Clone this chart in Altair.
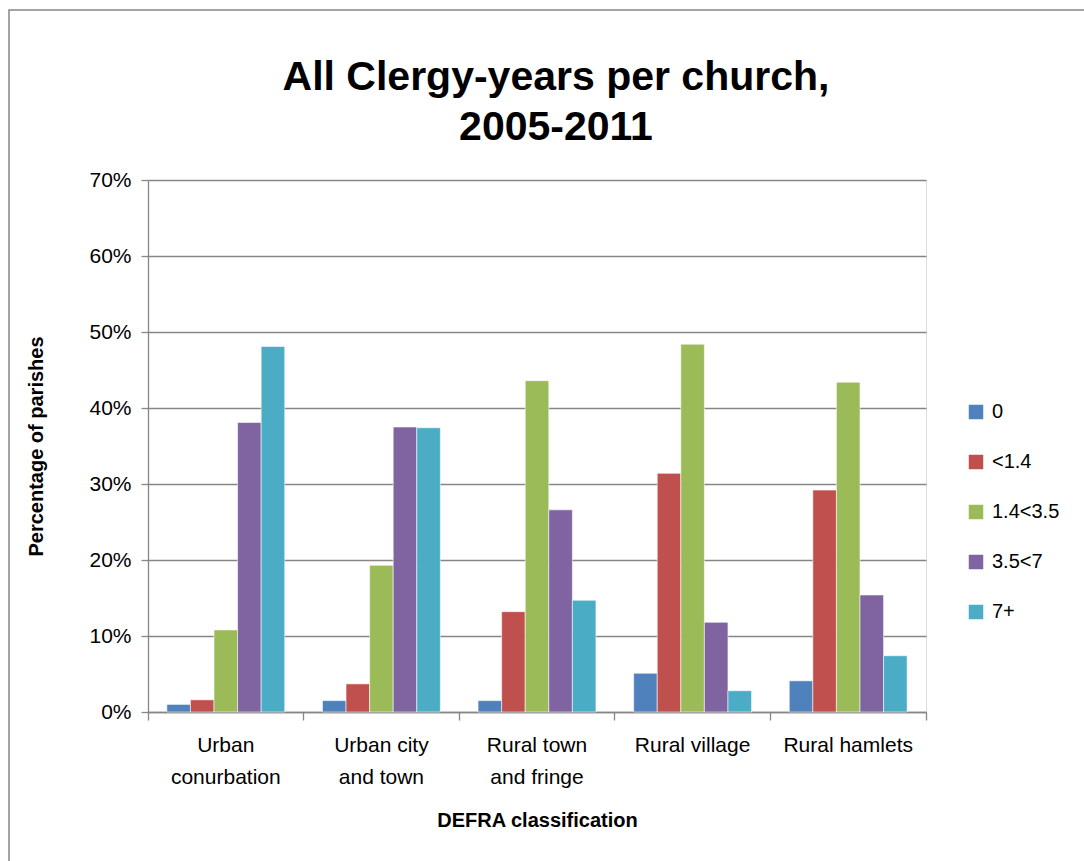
import altair as alt
import pandas as pd

title_lines = ["All Clergy-years per church,", "2005-2011"]
categories = ["Urban conurbation", "Urban city and town", "Rural town and fringe", "Rural village", "Rural hamlets"]
category_lines = [["Urban", "conurbation"], ["Urban city", "and town"], ["Rural town", "and fringe"], ["Rural village"], ["Rural hamlets"]]
series = ["0", "<1.4", "1.4<3.5", "3.5<7", "7+"]
colors = ["#4F81BD", "#C0504D", "#9BBB59", "#8064A2", "#4BACC6"]
y_ticks = [0, 0.1, 0.2, 0.3, 0.4, 0.5, 0.6, 0.7]
values = {
    "0":       [0.010, 0.015, 0.015, 0.051, 0.041],
    "<1.4":    [0.016, 0.037, 0.132, 0.314, 0.292],
    "1.4<3.5": [0.108, 0.193, 0.436, 0.484, 0.434],
    "3.5<7":   [0.381, 0.375, 0.266, 0.118, 0.154],
    "7+":      [0.481, 0.374, 0.147, 0.028, 0.074],
}

rows = []
for s in series:
    for c, v in zip(categories, values[s]):
        rows.append({"cat": c, "series": s, "value": v})
df = pd.DataFrame(rows)

def lines_js(lines):
    return "[" + ",".join("'" + l + "'" for l in lines) + "]"

label_expr = ""
for c, l in zip(categories, category_lines):
    label_expr += f"datum.value == '{c}' ? {lines_js(l)} : "
label_expr += "datum.value"

FONT = "Liberation Sans Narrow, Liberation Sans, sans-serif"

bars = alt.Chart(df).mark_bar(stroke="#ffffff", strokeWidth=0.8, strokeOpacity=0.7).encode(
    x=alt.X("cat:N", sort=categories, scale=alt.Scale(paddingInner=0, paddingOuter=0),
            axis=alt.Axis(title="DEFRA classification", labelExpr=label_expr, labelAngle=0,
                          labelFontSize=21, labelFont=FONT, labelColor="#000000",
                          labelLineHeight=32, labelPadding=14, labelBaseline="top",
                          tickSize=8, tickColor="#868686", tickWidth=1.3,
                          bandPosition=1, tickExtra=True,
                          domainColor="#868686", domainWidth=1.3,
                          titleFont=FONT, titleFontSize=20, titleFontWeight="bold",
                          titleColor="#000000", titlePadding=23, grid=False)),
    xOffset=alt.XOffset("series:N", sort=series, scale=alt.Scale(paddingInner=0, paddingOuter=0.8)),
    y=alt.Y("value:Q", scale=alt.Scale(domain=[0, 0.7]),
            axis=alt.Axis(title="Percentage of parishes", format=".0%", values=y_ticks,
                          labelFontSize=21, labelFont=FONT, labelColor="#000000", labelPadding=10,
                          tickSize=7, tickColor="#868686", tickWidth=1.3,
                          domainColor="#868686", domainWidth=1.3,
                          gridColor="#868686", gridWidth=1.3,
                          titleFont=FONT, titleFontSize=20, titleFontWeight="bold",
                          titleColor="#000000", titlePadding=42)),
    color=alt.Color("series:N", sort=series, scale=alt.Scale(domain=series, range=colors),
                    legend=alt.Legend(title=None, orient="none", legendX=818, legendY=222,
                                      symbolType="square", symbolSize=210, symbolStrokeWidth=0,
                                      labelFontSize=20, labelFont=FONT, labelColor="#000000",
                                      rowPadding=30, labelOffset=6)),
)

border = alt.Chart(pd.DataFrame({"k": [0]})).mark_rect(fill=None, stroke="#878787", strokeWidth=1.5).encode(
    x=alt.value(9 - 148), x2=alt.value(1100 - 148), y=alt.value(10 - 180), y2=alt.value(880 - 180)
)

title = alt.Chart(pd.DataFrame({"k": [0]})).mark_text(
    font=FONT, fontSize=41, fontWeight="bold", color="#000000", lineHeight=50,
    align="center", baseline="middle"
).encode(x=alt.value(556 - 148), y=alt.value(78 - 180), text=alt.value(title_lines))

chart = alt.layer(border, title, bars).properties(
    width=778, height=532,
    autosize=alt.AutoSizeParams(type="none"),
    padding={"left": 148, "top": 180, "right": 158, "bottom": 149},
).configure_view(stroke=None).configure(background="#ffffff")

chart.save("out.html", embed_options={"renderer": "svg", "actions": False})
